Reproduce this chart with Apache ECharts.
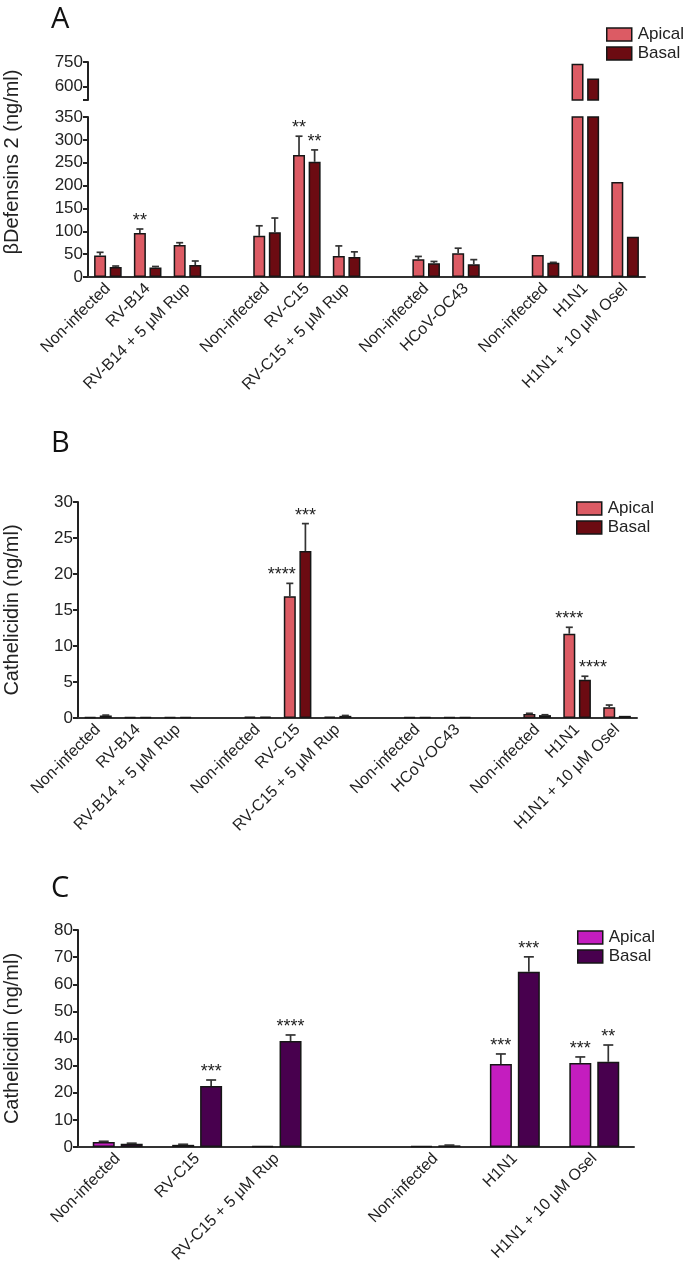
<!DOCTYPE html>
<html><head><meta charset="utf-8">
<script src="https://cdn.jsdelivr.net/npm/echarts@6/dist/echarts.min.js"></script>
<style>html,body{margin:0;padding:0;background:#fff}#c{width:688px;height:1284px}</style>
</head><body><div id="c"></div>
<script>
// ---------- Panel A: beta-defensin 2 ----------
const catsA = ['Non-infected','RV-B14','RV-B14 + 5 μM Rup','','Non-infected','RV-C15','RV-C15 + 5 μM Rup','','Non-infected','HCoV-OC43','','Non-infected','H1N1','H1N1 + 10 μM Osel'];
const apicalA    = [47, 96, 70, null, 90, 267, 46, null, 39, 52, null, 48, 740, 208];
const apicalErrA = [7, 9, 5, null, 22, 41, 22, null, 6, 11, null, 0, 0, 0];
const basalA     = [22, 21, 26, null, 98, 252, 44, null, 30, 28, null, 31, 650, 88];
const basalErrA  = [2, 2, 9, null, 31, 26, 11, null, 4, 10, null, 1, 0, 0];
const starsApicalA = ['', '**', '', '', '', '**', '', '', '', '', '', '', '', ''];
const starsBasalA  = ['', '', '', '', '', '**', '', '', '', '', '', '', '', ''];
const ticksALow = [0, 350, 50];      // min, max, interval
const ticksAHigh = [600, 750];       // labelled ticks above the break
const breakA = [520, 750];           // range of the upper segment

// ---------- Panel B: cathelicidin ----------
const catsB = catsA;
const apicalB    = [0.15, 0.15, 0.15, null, 0.2, 16.9, 0.2, null, 0.1, 0.1, null, 0.55, 11.7, 1.5];
const apicalErrB = [0, 0, 0, null, 0, 1.8, 0, null, 0, 0, null, 0.1, 0.9, 0.3];
const basalB     = [0.35, 0.15, 0.15, null, 0.2, 23.2, 0.3, null, 0.1, 0.1, null, 0.4, 5.3, 0.3];
const basalErrB  = [0.05, 0, 0, null, 0, 3.8, 0.05, null, 0, 0, null, 0.05, 0.5, 0];
const starsApicalB = ['', '', '', '', '', '****', '', '', '', '', '', '', '****', ''];
const starsBasalB  = ['', '', '', '', '', '***', '', '', '', '', '', '', '****', ''];
const ticksB = [0, 30, 5];

// ---------- Panel C: cathelicidin ----------
const catsC = ['Non-infected','RV-C15','RV-C15 + 5 μM Rup','','Non-infected','H1N1','H1N1 + 10 μM Osel'];
const apicalC    = [1.8, 0.8, 0.3, null, 0.3, 30.6, 31.0];
const apicalErrC = [0.3, 0.2, 0, null, 0, 3.7, 2.2];
const basalC     = [1.2, 22.5, 39.1, null, 0.6, 64.6, 31.4];
const basalErrC  = [0.2, 2.2, 2.2, null, 0.1, 5.5, 6.2];
const starsApicalC = ['', '', '', '', '', '***', '***'];
const starsBasalC  = ['', '***', '****', '', '', '***', '**'];
const ticksC = [0, 80, 10];

const seriesNames = ['Apical', 'Basal'];
const yNameA = 'βDefensins 2 (ng/ml)';
const yNameBC = 'Cathelicidin (ng/ml)';

// ---------- styles ----------
const FONT = 'Liberation Sans, Arial, sans-serif';
const TXT = '#222';
const colA = ['#dc5b64', '#6c0b12'];
const colC = ['#c41dbf', '#48004e'];
const EDGE = '#161616';
// text alignment of a few crowded significance labels (style only)
const starAlignB = { apical: { 5: 'right' }, basal: { 12: 'left' } };

const chart = echarts.init(document.getElementById('c'));

function toBar(arr) { return arr.map(v => (v == null ? '-' : v)); }

function errSeries(xi, yi, means, errs, stars, offset, capW, halfBar, aligns) {
  const data = [], starList = [], alignList = [];
  means.forEach((m, i) => {
    if (m != null) {
      data.push([i, m, m + (errs[i] || 0)]);
      starList.push(stars[i] || '');
      alignList.push((aligns && aligns[i]) || 'center');
    }
  });
  return {
    type: 'custom', xAxisIndex: xi, yAxisIndex: yi, silent: true, z: 5, clip: false,
    data: data, encode: { x: 0, y: [1, 2] },
    renderItem: function (params, api) {
      const base = api.coord([api.value(0), api.value(1)]);
      const top = api.coord([api.value(0), api.value(2)]);
      const x = base[0] + offset;
      const ch = [];
      if (api.value(2) > api.value(1)) {
        ch.push({ type: 'line', shape: { x1: x, y1: base[1], x2: x, y2: top[1] }, style: { stroke: '#333', lineWidth: 1.7 } });
        ch.push({ type: 'line', shape: { x1: x - capW / 2, y1: top[1], x2: x + capW / 2, y2: top[1] }, style: { stroke: '#333', lineWidth: 1.7 } });
      }
      const s = starList[params.dataIndex];
      if (s) {
        const al = alignList[params.dataIndex];
        const tx = al === 'right' ? x + halfBar : (al === 'left' ? x - halfBar : x);
        ch.push({ type: 'text', style: { text: s, x: tx, y: top[1] - 8, align: al, verticalAlign: 'middle', font: '18px ' + FONT, fill: '#222' } });
      }
      return { type: 'group', children: ch };
    }
  };
}

function catAxis(grid, cats, show) {
  return {
    type: 'category', gridIndex: grid, data: cats, boundaryGap: true,
    axisLine: { show: show, lineStyle: { color: '#333', width: 2 } },
    axisTick: { show: false },
    axisLabel: { show: show, rotate: 45, interval: 0, margin: 9, fontSize: 16, color: TXT, fontFamily: FONT },
    splitLine: { show: false }
  };
}
function valAxis(grid, t, extra) {
  return Object.assign({
    type: 'value', gridIndex: grid, min: t[0], max: t[1], interval: t[2],
    axisLine: { show: true, lineStyle: { color: '#222', width: 2 } },
    axisTick: { show: true, length: 5, lineStyle: { color: '#222', width: 2 } },
    axisLabel: { fontSize: 17, color: TXT, fontFamily: FONT, margin: 5 },
    splitLine: { show: false }
  }, extra || {});
}
function bar(name, xi, yi, arr, color, width, gap) {
  return {
    type: 'bar', name: name, xAxisIndex: xi, yAxisIndex: yi, data: toBar(arr),
    barWidth: width, barGap: gap, barMinHeight: 1,
    itemStyle: { color: color, borderColor: EDGE, borderWidth: 1.5 }
  };
}
function legend(left, top, cols) {
  return {
    left: left, top: top, orient: 'vertical', icon: 'rect', itemWidth: 25, itemHeight: 13, itemGap: 0,
    selectedMode: false,
    textStyle: { fontSize: 17, lineHeight: 19, color: TXT, fontFamily: FONT, padding: [0, 0, 0, 1] },
    data: seriesNames.map((n, i) => ({ name: n, itemStyle: { color: cols[i], borderColor: EDGE, borderWidth: 1.5 } }))
  };
}
function panelTitle(text, left, top) {
  return { text: text, left: left, top: top, textStyle: { fontSize: 29, fontWeight: 'normal', color: '#111', fontFamily: 'Open Sans, Noto Sans, sans-serif' } };
}
function grid(left, right, top, height) {
  return { left: left, right: right, top: top, height: height, containLabel: false, outerBoundsMode: 'none' };
}
const nameStyle = { fontSize: 20, color: TXT, fontFamily: FONT };

const upperApical = apicalA.map(v => (v != null && v > breakA[0] ? v : null));
const upperBasal = basalA.map(v => (v != null && v > breakA[0] ? v : null));

const option = {
  animation: false,
  backgroundColor: '#fff',
  title: [panelTitle('A', 46, 0), panelTitle('B', 46, 424), panelTitle('C', 46, 869)],
  legend: [legend(601, 20, colA), legend(571, 494, colA), legend(572, 923, colC)],
  grid: [
    grid(88, 43, 117, 160),   // 0 A lower
    grid(88, 43, 62, 38),     // 1 A upper
    grid(88, 43, 62, 200),    // 2 A name helper
    grid(78, 51, 502, 216),   // 3 B
    grid(78, 54, 930, 217)    // 4 C
  ],
  xAxis: [
    catAxis(0, catsA, true),
    catAxis(1, catsA, false),
    catAxis(2, catsA, false),
    catAxis(3, catsB, true),
    catAxis(4, catsC, true)
  ],
  yAxis: [
    valAxis(0, ticksALow),
    valAxis(1, [breakA[0], breakA[1], 10], {
      axisTick: { show: true, length: 5, customValues: [breakA[0]].concat(ticksAHigh), lineStyle: { color: '#222', width: 2 } },
      axisLabel: { fontSize: 17, color: TXT, fontFamily: FONT, margin: 5, customValues: ticksAHigh }
    }),
    { type: 'value', gridIndex: 2, name: yNameA, nameLocation: 'middle', nameGap: 66, nameTextStyle: nameStyle,
      axisLine: { show: false }, axisTick: { show: false }, axisLabel: { show: false }, splitLine: { show: false } },
    valAxis(3, ticksB, { name: yNameBC, nameLocation: 'middle', nameGap: 56, nameTextStyle: nameStyle }),
    valAxis(4, ticksC, { name: yNameBC, nameLocation: 'middle', nameGap: 56, nameTextStyle: nameStyle })
  ],
  series: [
    bar(seriesNames[0], 0, 0, apicalA, colA[0], 12, '30%'),
    bar(seriesNames[1], 0, 0, basalA, colA[1], 12, '30%'),
    bar(seriesNames[0], 1, 1, upperApical, colA[0], 12, '30%'),
    bar(seriesNames[1], 1, 1, upperBasal, colA[1], 12, '30%'),
    errSeries(0, 0, apicalA, apicalErrA, starsApicalA, -7.8, 7, 6),
    errSeries(0, 0, basalA, basalErrA, starsBasalA, 7.8, 7, 6),

    bar(seriesNames[0], 3, 3, apicalB, colA[0], 12, '30%'),
    bar(seriesNames[1], 3, 3, basalB, colA[1], 12, '30%'),
    errSeries(3, 3, apicalB, apicalErrB, starsApicalB, -7.8, 7, 6, starAlignB.apical),
    errSeries(3, 3, basalB, basalErrB, starsBasalB, 7.8, 7, 6, starAlignB.basal),

    bar(seriesNames[0], 4, 4, apicalC, colC[0], 22, '27%'),
    bar(seriesNames[1], 4, 4, basalC, colC[1], 22, '27%'),
    errSeries(4, 4, apicalC, apicalErrC, starsApicalC, -14, 10, 11),
    errSeries(4, 4, basalC, basalErrC, starsBasalC, 14, 10, 11)
  ]
};
chart.setOption(option);
</script>
</body></html>
